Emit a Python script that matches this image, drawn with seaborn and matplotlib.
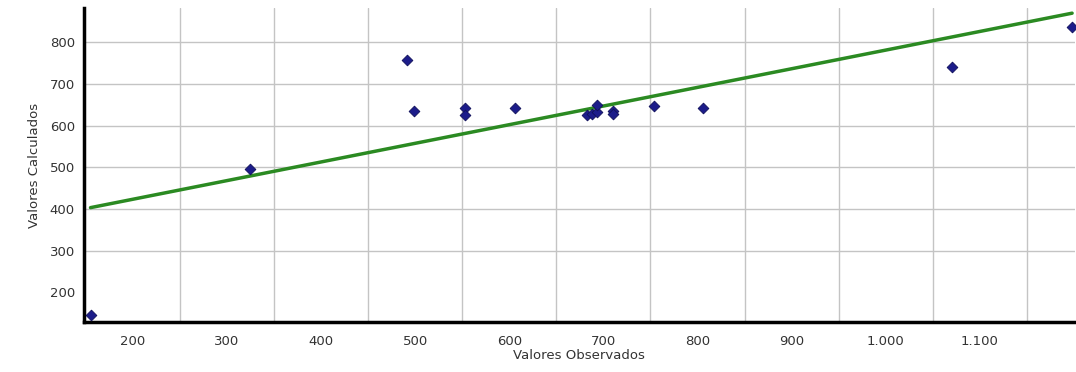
import numpy as np
import pandas as pd
import matplotlib
matplotlib.use("Agg")
import matplotlib.pyplot as plt
import seaborn as sns
from matplotlib.ticker import FuncFormatter

observados = [155, 324, 491, 499, 553, 553, 606, 683, 688, 693, 693, 710, 710, 754, 806, 1070, 1198]
calculados = [145, 495, 757, 634, 643, 625, 642, 625, 628, 632, 650, 634, 628, 646, 642, 740, 836]

# fitted line end points
linea_x = [155, 1198]
linea_y = [403, 870]

x_ticks = [200, 300, 400, 500, 600, 700, 800, 900, 1000, 1100]
y_ticks = [200, 300, 400, 500, 600, 700, 800]

df = pd.DataFrame({"obs": observados, "calc": calculados})
df_linea = pd.DataFrame({"obs": linea_x, "calc": linea_y})

sns.set_style("white")
plt.rcParams['font.family'] = ['DejaVu Sans']

fig = plt.figure(figsize=(10.76, 3.72), dpi=100)
ax = fig.add_axes([0.078, 0.134, 0.921, 0.844])

sns.lineplot(data=df_linea, x="obs", y="calc", ax=ax, color="#2b8a22", linewidth=2.5, zorder=3)
sns.scatterplot(data=df, x="obs", y="calc", ax=ax, color="#1c1c8a", marker="D", s=30,
                edgecolor="#10105a", linewidth=0.6, zorder=4)

ax.set_xlim(148, 1201)
ax.set_ylim(128, 882)

ax.set_xticks(x_ticks)
ax.set_xticks(np.arange(250, 1200, 100), minor=True)
ax.set_yticks(y_ticks)
ax.xaxis.set_major_formatter(FuncFormatter(lambda v, p: f"{int(v):,}".replace(",", ".")))

ax.grid(True, which="minor", axis="x", color="#c4c4c4", linewidth=1)
ax.grid(True, which="major", axis="y", color="#c4c4c4", linewidth=1)
ax.yaxis.get_gridlines()[0].set_visible(False)
ax.set_axisbelow(True)

for s in ["top", "right"]:
    ax.spines[s].set_visible(False)
for s in ["left", "bottom"]:
    ax.spines[s].set_linewidth(2.5)
    ax.spines[s].set_color("black")

ax.tick_params(axis="both", which="major", labelsize=9.5, colors="#333333",
               length=3, width=1, direction="out", labelcolor="#333333")
ax.tick_params(axis="x", which="minor", length=3, width=1, color="#333333", direction="out")
ax.tick_params(axis="x", which="major", pad=6)

ax.set_xlabel("Valores Observados", fontsize=9.5, color="#333333", labelpad=1)
ax.set_ylabel("Valores Calculados", fontsize=9.5, color="#333333", labelpad=6)

fig.savefig("out.png", dpi=100)
